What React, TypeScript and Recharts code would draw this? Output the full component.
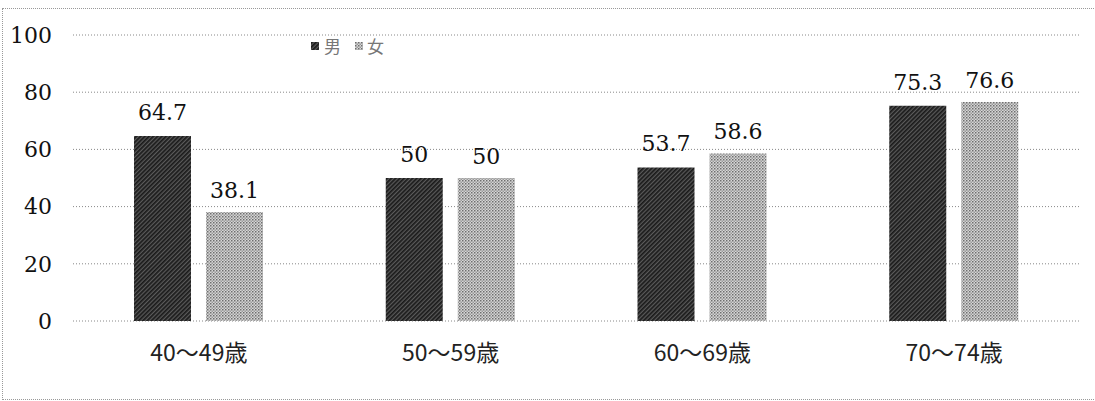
import { BarChart, Bar, CartesianGrid, XAxis, YAxis, LabelList } from 'recharts';

const ageGroups = ['40～49歳', '50～59歳', '60～69歳', '70～74歳']
const male = [64.7, 50, 53.7, 75.3]
const female = [38.1, 50, 58.6, 76.6]
const yTicks = [0, 20, 40, 60, 80, 100]

const data = ageGroups.map((name, i) => ({ name, male: male[i], female: female[i] }))

const serif = 'DejaVu Serif'
const gothic = 'Noto Sans CJK JP'

const Patterns = () => (
  <svg width={0} height={0} style={{ position: 'absolute' }}>
    <defs>
      <pattern id="darkHatch" width={3} height={3} patternUnits="userSpaceOnUse" patternTransform="rotate(45)">
        <rect width={3} height={3} fill="#5a5a5a" />
        <rect width={1.7} height={3} fill="#1a1a1a" />
      </pattern>
      <pattern id="lightDots" width={3} height={3} patternUnits="userSpaceOnUse">
        <rect width={3} height={3} fill="#d6d6d6" />
        <rect width={1.5} height={1.5} fill="#6e6e6e" />
        <rect x={1.5} y={1.5} width={1.5} height={1.5} fill="#9a9a9a" />
      </pattern>
    </defs>
  </svg>
)

const LegendBox = () => (
  <div style={{ position: 'absolute', left: 311, top: 34, display: 'flex', alignItems: 'center', fontFamily: gothic, fontSize: 17, color: '#777', lineHeight: '24px' }}>
    <svg width={8} height={8} style={{ marginRight: 5 }}><rect width={8} height={8} fill="url(#darkHatch)" /></svg>
    <span style={{ marginRight: 14 }}>男</span>
    <svg width={8} height={8} style={{ marginRight: 4 }}><rect width={8} height={8} fill="url(#lightDots)" /></svg>
    <span>女</span>
  </div>
)

const labelStyle = { fill: '#111', fontSize: 22, fontFamily: serif }

const App = () => {
  return (
    <div style={{ position: 'absolute', left: 0, top: 0, width: 1095, height: 401, background: '#fff', overflow: 'hidden' }}>
      <Patterns />
      <div style={{ position: 'absolute', left: 2, top: 8, width: 1120, height: 390, border: '1px dotted #999' }} />
      <BarChart
        width={1095}
        height={401}
        data={data}
        margin={{ top: 35, right: 15, bottom: 0, left: 0 }}
        barGap={15}
      >
        <CartesianGrid vertical={false} stroke="#888" strokeDasharray="1 2" />
        <XAxis
          dataKey="name"
          height={80}
          axisLine={false}
          tickLine={false}
          tickSize={0}
          tickMargin={24}
          tick={{ fill: '#222', fontSize: 23, fontFamily: gothic }}
        />
        <YAxis
          width={73}
          domain={[0, 100]}
          ticks={yTicks}
          axisLine={false}
          tickLine={false}
          tickSize={0}
          tickMargin={21}
          tick={{ fill: '#111', fontSize: 22, fontFamily: serif, style: { fontFamily: serif } }}
        />
        <Bar dataKey="male" name="男" fill="url(#darkHatch)" barSize={57} isAnimationActive={false}>
          <LabelList dataKey="male" position="top" offset={16} style={labelStyle} />
        </Bar>
        <Bar dataKey="female" name="女" fill="url(#lightDots)" barSize={57} isAnimationActive={false}>
          <LabelList dataKey="female" position="top" offset={14} style={labelStyle} />
        </Bar>
      </BarChart>
      <LegendBox />
    </div>
  )
}

export default App
